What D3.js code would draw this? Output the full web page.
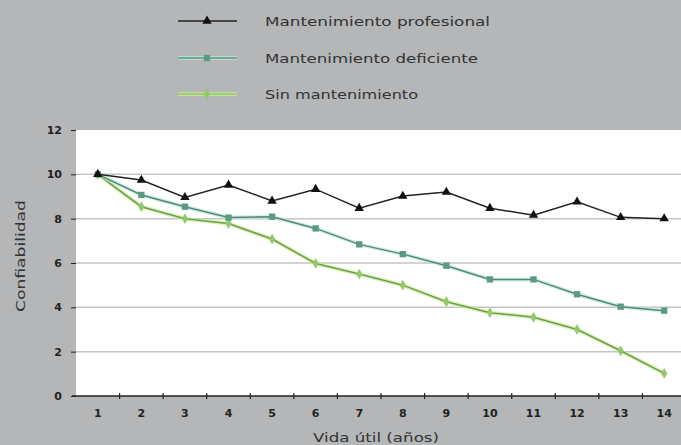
<!DOCTYPE html>
<html><head><meta charset="utf-8">
<script src="https://cdn.jsdelivr.net/npm/d3@7"></script>
<style>html,body{margin:0;padding:0;background:#b4b6b8;overflow:hidden}svg{display:block}</style>
</head><body>
<svg id="c" width="681" height="445"></svg>
<script>
const years = [1,2,3,4,5,6,7,8,9,10,11,12,13,14];
const profesional = [10,9.74,8.96,9.52,8.8,9.33,8.47,9.02,9.2,8.47,8.16,8.76,8.06,8.0];
const deficiente = [10,9.07,8.54,8.05,8.09,7.56,6.84,6.4,5.88,5.26,5.26,4.59,4.03,3.85];
const sinMant = [10,8.54,8.0,7.78,7.08,5.98,5.5,5.0,4.25,3.76,3.55,3.0,2.04,1.02];
const yTicks = [0,2,4,6,8,10,12];
const seriesNames = ["Mantenimiento profesional","Mantenimiento deficiente","Sin mantenimiento"];
const xTitle = "Vida útil (años)";
const yTitle = "Confiabilidad";

(function(){
const svg = d3.select("#c");
const pL = 76, pR = 686, pT = 130, pB = 396;
const x = d3.scaleBand().domain(years).range([pL, pR]);
const y = d3.scaleLinear().domain([0,12]).range([pB, pT]);

svg.append("rect").attr("x", pL).attr("y", pT).attr("width", 681-pL).attr("height", pB-pT).attr("fill", "#ffffff");

svg.append("g").selectAll("line").data(yTicks.filter(d=>d>0 && d<12)).join("line")
  .attr("x1", pL).attr("x2", 681).attr("y1", d=>y(d)).attr("y2", d=>y(d))
  .attr("stroke", "#c4c4c4").attr("stroke-width", 1.5);

const ya = svg.append("g").attr("transform", `translate(${pL},0)`)
  .call(d3.axisLeft(y).tickValues(yTicks).tickSize(5).tickPadding(9));
ya.select(".domain").remove();
ya.selectAll("line").attr("stroke", "#222");
ya.selectAll("text").attr("font-family", "DejaVu Sans, sans-serif").attr("font-size", 11).attr("font-weight", "bold").attr("fill", "#222");

const xa = svg.append("g").attr("transform", `translate(0,${pB})`)
  .call(d3.axisBottom(x).tickSize(0).tickPadding(13));
xa.select(".domain").attr("stroke", "#222").attr("stroke-width", 1.5).attr("d", `M${pL-4},0H681`);
xa.selectAll("text").attr("font-family", "DejaVu Sans, sans-serif").attr("font-size", 11).attr("font-weight", "bold").attr("fill", "#222");
svg.append("g").selectAll("line").data(years.slice(1)).join("line")
  .attr("x1", d=>x(d)).attr("x2", d=>x(d)).attr("y1", pB-3).attr("y2", pB+3)
  .attr("stroke", "#222").attr("stroke-width", 1.2);

const cx = d => x(d) + x.bandwidth()/2;
const line = d3.line().x((d,i)=>cx(years[i])).y(d=>y(d));

const series = [
  {vals: profesional, color: "#222222", glow: null, sym: d3.symbolTriangle, mfill: "#111", size: 38},
  {vals: deficiente, color: "#4f8a74", glow: "#bfe8d6", sym: d3.symbolSquare, mfill: "#5a9a84", size: 40},
  {vals: sinMant, color: "#6f9c52", glow: "#c6ef92", sym: d3.symbolDiamond, mfill: "#93c96c", size: 34}
];

series.slice().reverse().forEach(s => {
  if (s.glow) svg.append("path").attr("d", line(s.vals)).attr("fill","none").attr("stroke", s.glow).attr("stroke-width", 4).attr("opacity", 0.7);
  svg.append("path").attr("d", line(s.vals)).attr("fill","none").attr("stroke", s.color).attr("stroke-width", 1.5);
  svg.append("g").selectAll("path").data(s.vals).join("path")
    .attr("transform", (d,i)=>`translate(${cx(years[i])},${y(d)})`)
    .attr("d", d3.symbol().type(s.sym).size(s.size)).attr("fill", s.mfill);
});

svg.append("text").attr("x", 376).attr("y", 442).attr("text-anchor","middle")
  .attr("font-family","DejaVu Sans, sans-serif").attr("font-size", 13).attr("fill","#333")
  .attr("textLength", 126).attr("lengthAdjust","spacingAndGlyphs").text(xTitle);
svg.append("text").attr("transform", "translate(25,256) rotate(-90)").attr("text-anchor","middle")
  .attr("font-family","DejaVu Sans, sans-serif").attr("font-size", 12).attr("fill","#333")
  .attr("textLength", 112).attr("lengthAdjust","spacingAndGlyphs").text(yTitle);

const ly = [21, 58, 94];
const lw = [225, 213, 153];
series.forEach((s,i) => {
  const g = svg.append("g");
  if (s.glow) g.append("line").attr("x1",178).attr("x2",237).attr("y1",ly[i]).attr("y2",ly[i]).attr("stroke", s.glow).attr("stroke-width",4).attr("opacity",0.7);
  g.append("line").attr("x1",178).attr("x2",237).attr("y1",ly[i]).attr("y2",ly[i]).attr("stroke", i===0 ? s.color : s.mfill).attr("stroke-width",1.6);
  g.append("path").attr("transform", `translate(207,${ly[i]})`).attr("d", d3.symbol().type(s.sym).size(s.size)).attr("fill", s.mfill);
  g.append("text").attr("x", 265).attr("y", ly[i]+5).attr("font-family","DejaVu Sans, sans-serif").attr("font-size", 13).attr("fill","#333")
    .attr("textLength", lw[i]).attr("lengthAdjust","spacingAndGlyphs").text(seriesNames[i]);
});
})();
</script>
</body></html>
